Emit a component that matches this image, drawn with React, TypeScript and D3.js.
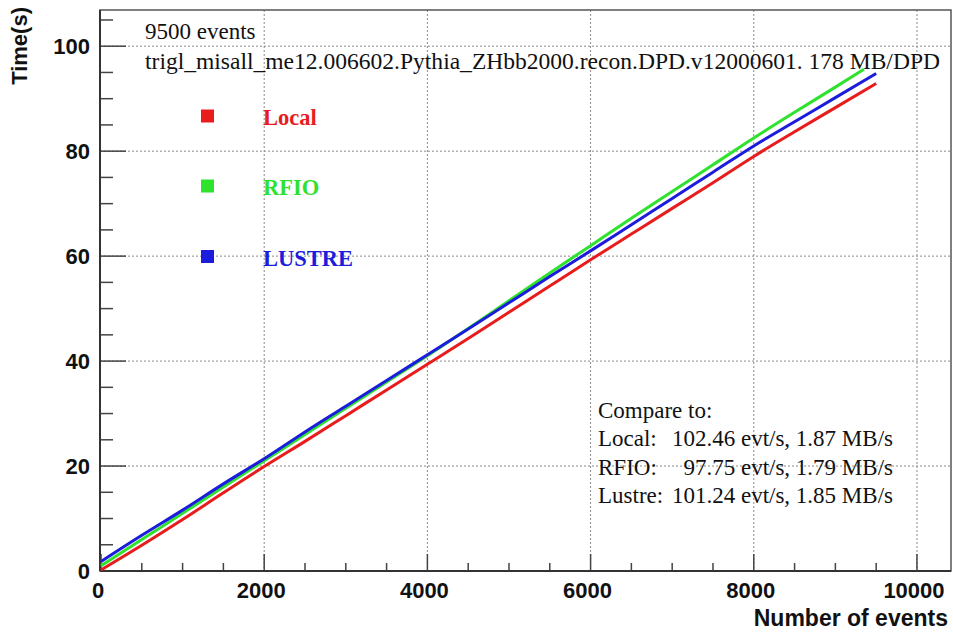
import React from "react";
import * as d3 from "d3";

const eventsX = [0, 500, 1000, 1500, 2000, 2500, 3000, 3500, 4000, 4500, 5000, 5500, 6000, 6500, 7000, 7500, 8000, 8500, 9000, 9500];
const localTime = [0.2, 4.9, 9.8, 14.9, 19.9, 24.7, 29.6, 34.5, 39.4, 44.3, 49.3, 54.3, 59.3, 64.2, 69.1, 74.0, 79.0, 83.7, 88.3, 92.9];
const lustreTime = [1.8, 6.8, 11.6, 16.6, 21.4, 26.5, 31.4, 36.3, 41.2, 46.1, 51.1, 56.1, 61.0, 66.0, 71.0, 76.0, 81.0, 85.6, 90.2, 94.8];
const rfioX = [0, 500, 1000, 1500, 2000, 2500, 3000, 3500, 4000, 4500, 5000, 5500, 6000, 6500, 7000, 7500, 8000, 8500, 9000, 9350];
const rfioTime = [1.0, 6.0, 11.0, 16.0, 21.0, 26.0, 31.0, 36.0, 41.0, 46.2, 51.5, 56.8, 62.0, 67.2, 72.3, 77.4, 82.5, 87.4, 92.2, 95.6];

const xMajorTicks = [0, 2000, 4000, 6000, 8000, 10000];
const yMajorTicks = [0, 20, 40, 60, 80, 100];

const seriesNames = ["Local", "RFIO", "LUSTRE"];
const compareLabels = ["Local:", "RFIO:", "Lustre:"];
const compareValues = ["102.46 evt/s, 1.87 MB/s", "97.75 evt/s, 1.79 MB/s", "101.24 evt/s, 1.85 MB/s"];

const titleLine1 = "9500 events";
const titleLine2 = "trigl_misall_me12.006602.Pythia_ZHbb2000.recon.DPD.v12000601. 178 MB/DPD";

const COLORS = ["#e81c1c", "#2ee22e", "#1c1cdc"];

export default function App() {
  const W = 953, H = 632;
  const x0 = 100, x1 = 951, y0 = 571, y1 = 10;
  const x = d3.scaleLinear().domain([0, 10417]).range([101, 951]);
  const y = d3.scaleLinear().domain([0, 106.9]).range([571, 10]);

  const line = d3.line<[number, number]>().x(d => x(d[0])).y(d => y(d[1])).curve(d3.curveMonotoneX);
  const series: [number, number][][] = [
    eventsX.map((e, i) => [e, localTime[i]] as [number, number]),
    rfioX.map((e, i) => [e, rfioTime[i]] as [number, number]),
    eventsX.map((e, i) => [e, lustreTime[i]] as [number, number]),
  ];

  const xMinor = d3.range(0, 10417, 500);
  const yMinor = d3.range(0, 106, 5);

  const serif = "'Liberation Serif', 'Times New Roman', serif";
  const sans = "'Liberation Sans', Arial, Helvetica, sans-serif";

  return (
    <svg width={W} height={H} style={{ position: "absolute", left: 0, top: 0, background: "#fff" }}>
      <rect x={0} y={0} width={W} height={H} fill="#fff" />
      {xMajorTicks.filter(t => t > 0).map(t => (
        <line key={"gx" + t} x1={x(t)} x2={x(t)} y1={y1} y2={y0} stroke="#8a8a8a" strokeWidth={1} strokeDasharray="2,2" />
      ))}
      {yMajorTicks.filter(t => t > 0).map(t => (
        <line key={"gy" + t} x1={x0} x2={x1} y1={y(t)} y2={y(t)} stroke="#8a8a8a" strokeWidth={1} strokeDasharray="2,2" />
      ))}
      <rect x={x0} y={y1} width={x1 - x0} height={y0 - y1} fill="none" stroke="#555" strokeWidth={1.5} />
      {xMinor.map(t => {
        const major = t % 2000 === 0;
        return <line key={"tx" + t} x1={x(t)} x2={x(t)} y1={y0} y2={y0 - (major ? 17 : 8)} stroke="#444" strokeWidth={1.5} />;
      })}
      {yMinor.map(t => {
        const major = t % 20 === 0;
        return <line key={"ty" + t} x1={x0} x2={x0 + (major ? 26 : 13)} y1={y(t)} y2={y(t)} stroke="#444" strokeWidth={1.5} />;
      })}
      <line x1={x0} x2={x1} y1={y0} y2={y0} stroke="#333" strokeWidth={2} />
      <line x1={x0} x2={x0} y1={y0} y2={y1} stroke="#333" strokeWidth={2} />
      {xMajorTicks.map(t => (
        <text key={"lx" + t} x={x(t) - 3} y={598} textAnchor="middle" fontFamily={sans} fontWeight="bold" fontSize={22} fill="#111">{t}</text>
      ))}
      {yMajorTicks.map(t => (
        <text key={"ly" + t} x={90} y={y(t) + 8} textAnchor="end" fontFamily={sans} fontWeight="bold" fontSize={22} fill="#111">{t}</text>
      ))}
      <text x={948} y={626} textAnchor="end" fontFamily={sans} fontWeight="bold" fontSize={23} fill="#111">Number of events</text>
      <text transform="translate(27,7) rotate(-90)" textAnchor="end" fontFamily={sans} fontWeight="bold" fontSize={22} fill="#111">Time(s)</text>
      {series.map((s, i) => (
        <path key={"s" + i} d={line(s) || ""} fill="none" stroke={COLORS[i]} strokeWidth={3} strokeLinejoin="round" />
      ))}
      <text x={145} y={39} fontFamily={serif} fontSize={23} fill="#111">{titleLine1}</text>
      <text x={145} y={69} fontFamily={serif} fontSize={23} fill="#111" textLength={795} lengthAdjust="spacingAndGlyphs">{titleLine2}</text>
      {seriesNames.map((n, i) => {
        const cy = [116, 186, 256.5][i];
        return (
          <g key={"lg" + i}>
            <rect x={201} y={cy - 6.5} width={13} height={13} fill={COLORS[i]} />
            <text x={263} y={cy + 9} fontFamily={serif} fontWeight="bold" fontSize={22.5} fill={COLORS[i]}>{n}</text>
          </g>
        );
      })}
      <text x={598} y={418} fontFamily={serif} fontSize={23} fill="#111">Compare to:</text>
      {compareLabels.map((l, i) => (
        <g key={"cmp" + i}>
          <text x={598} y={446 + i * 28.5} fontFamily={serif} fontSize={23} fill="#111">{l}</text>
          <text x={893} y={446 + i * 28.5} textAnchor="end" fontFamily={serif} fontSize={23} fill="#111">{compareValues[i]}</text>
        </g>
      ))}
    </svg>
  );
}
